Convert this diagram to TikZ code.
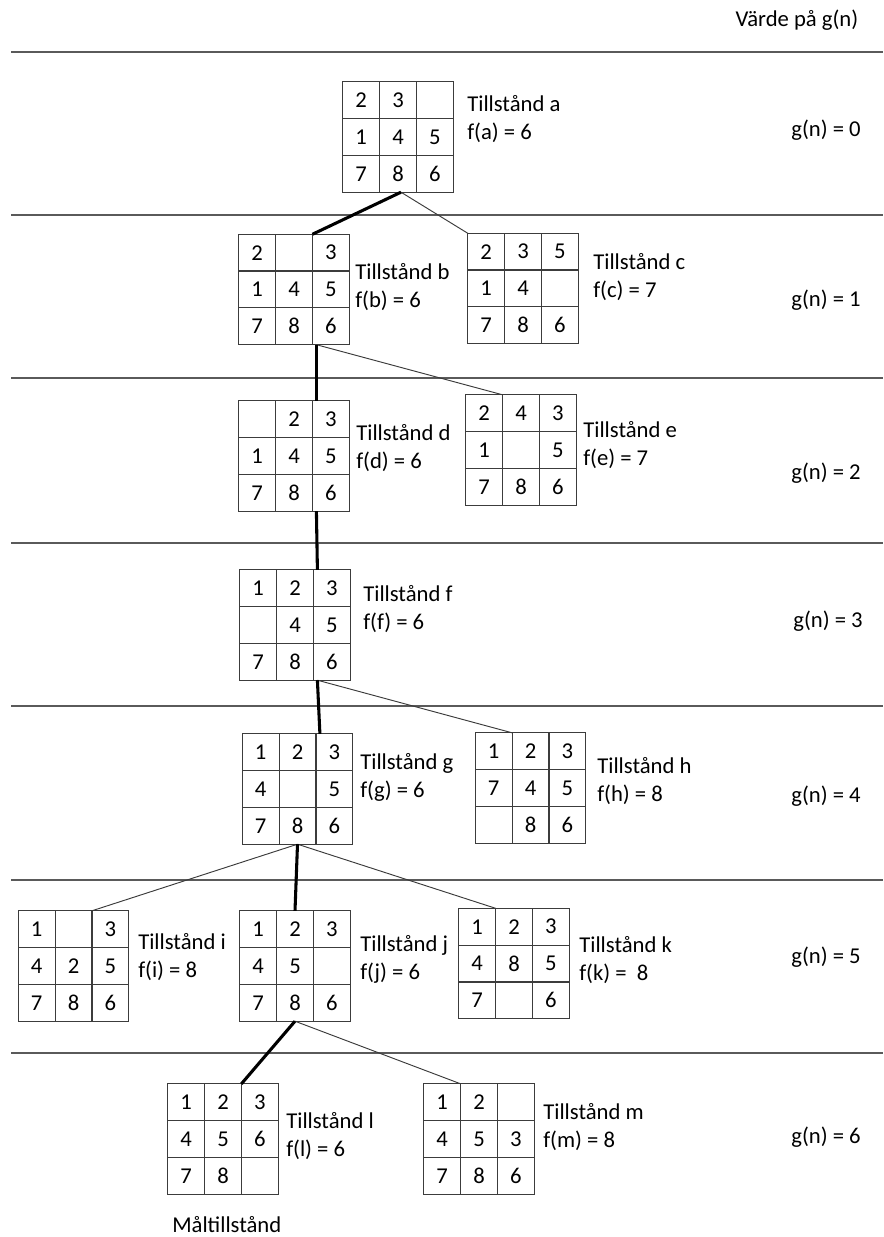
\documentclass[tikz,border=0pt]{standalone}
\usepackage{fontspec}
\setmainfont{Carlito}
\usetikzlibrary{matrix,calc}
\definecolor{gridc}{HTML}{3C3C3C}
\definecolor{sepc}{HTML}{5A5A5A}
\definecolor{linec}{HTML}{3A3A3A}
\begin{document}
\begin{tikzpicture}[x=0.75pt,y=-0.75pt,
  every node/.style={font=\fontsize{17}{21}\selectfont},
  pz/.style={matrix of nodes, nodes in empty cells, inner sep=0pt, outer sep=0pt,
     column sep=0pt, row sep=0pt,
     nodes={minimum size=27.6pt, inner sep=0pt, outer sep=0pt, anchor=center}},
  gridline/.style={draw=gridc, line width=0.9pt},
  lbl/.style={anchor=west, align=left, inner sep=0pt},
  gval/.style={anchor=center, inner sep=0pt},
  sep/.style={draw=sepc, line width=1.1pt},
  best/.style={line width=2.3pt, draw=black},
  other/.style={line width=0.7pt, draw=linec},
]
\fill[white] (0,0) rectangle (883,1237);
\useasboundingbox (0,0) rectangle (883,1237);

% separators
\foreach \yy in {52,215,378,543,706,880,1053} {\draw[sep] (11,\yy) -- (883,\yy);}

% header and g(n) values
\node[gval] (title) at (797,20) {Värde på g(n)};
\node[gval] (gn0) at (826,130) {g(n) = 0};
\node[gval] (gn1) at (826,300) {g(n) = 1};
\node[gval] (gn2) at (826,473) {g(n) = 2};
\node[gval] (gn3) at (828,621) {g(n) = 3};
\node[gval] (gn4) at (826,796) {g(n) = 4};
\node[gval] (gn5) at (826,957) {g(n) = 5};
\node[gval] (gn6) at (826,1137) {g(n) = 6};

% puzzles
\matrix[pz] (a) at (398,137) {2 & 3 & \\ 1 & 4 & 5\\ 7 & 8 & 6\\};
\matrix[pz] (b) at (294,289.5) {2 & & 3\\ 1 & 4 & 5\\ 7 & 8 & 6\\};
\matrix[pz] (c) at (523,288.5) {2 & 3 & 5\\ 1 & 4 & \\ 7 & 8 & 6\\};
\matrix[pz] (d) at (294,456) { & 2 & 3\\ 1 & 4 & 5\\ 7 & 8 & 6\\};
\matrix[pz] (e) at (521,450) {2 & 4 & 3\\ 1 & & 5\\ 7 & 8 & 6\\};
\matrix[pz] (f) at (295,625) {1 & 2 & 3\\ & 4 & 5\\ 7 & 8 & 6\\};
\matrix[pz] (g) at (297.5,789) {1 & 2 & 3\\ 4 & & 5\\ 7 & 8 & 6\\};
\matrix[pz] (h) at (530.5,788) {1 & 2 & 3\\ 7 & 4 & 5\\ & 8 & 6\\};
\matrix[pz] (i) at (73.5,966) {1 & & 3\\ 4 & 2 & 5\\ 7 & 8 & 6\\};
\matrix[pz] (j) at (295,966) {1 & 2 & 3\\ 4 & 5 & \\ 7 & 8 & 6\\};
\matrix[pz] (k) at (514,963.5) {1 & 2 & 3\\ 4 & 8 & 5\\ 7 & & 6\\};
\matrix[pz] (l) at (223,1139) {1 & 2 & 3\\ 4 & 5 & 6\\ 7 & 8 & \\};
\matrix[pz] (m) at (479,1139) {1 & 2 & \\ 4 & 5 & 3\\ 7 & 8 & 6\\};

% grid lines of every puzzle
\foreach \n in {a,b,c,d,e,f,g,h,i,j,k,l,m} {
  \draw[gridline] (\n.north west) rectangle (\n.south east);
  \foreach \t in {1/3,2/3} {
    \draw[gridline] ($(\n.north west)!\t!(\n.north east)$) -- ($(\n.south west)!\t!(\n.south east)$);
    \draw[gridline] ($(\n.north west)!\t!(\n.south west)$) -- ($(\n.north east)!\t!(\n.south east)$);
  }
}

% labels
\node[lbl] (la) at (467,119) {Tillstånd a\\f(a) = 6};
\node[lbl] (lb) at (355,287) {Tillstånd b\\f(b) = 6};
\node[lbl] (lc) at (593,277.5) {Tillstånd c\\f(c) = 7};
\node[lbl] (ld) at (356,448) {Tillstånd d\\f(d) = 6};
\node[lbl] (le) at (583,445) {Tillstånd e\\f(e) = 7};
\node[lbl] (lf) at (363,609) {Tillstånd f\\f(f) = 6};
\node[lbl] (lg) at (360,777.5) {Tillstånd g\\f(g) = 6};
\node[lbl] (lh) at (597,781) {Tillstånd h\\f(h) = 8};
\node[lbl] (li) at (138,957.5) {Tillstånd i\\f(i) = 8};
\node[lbl] (lj) at (360,959) {Tillstånd j\\f(j) = 6};
\node[lbl] (lk) at (579,960) {Tillstånd k\\f(k) = \ 8};
\node[lbl] (ll) at (286,1136) {Tillstånd l\\f(l) = 6};
\node[lbl] (lm) at (543,1127.5) {Tillstånd m\\f(m) = 8};
\node[lbl] (goal) at (172,1225) {Måltillstånd};

% connectors
\draw[other] ([xshift=2.25pt]a.south) -- (c.north west);
\draw[best] ([xshift=2.25pt]a.south) -- (b-1-3.north west);
\draw[other] ([xshift=3pt]b-3-3.south west) -- (e-1-2.north west);
\draw[best] ([xshift=3pt]b-3-3.south west) -- ([xshift=3pt]d-1-3.north west);
\draw[best] ([xshift=3pt]d-3-3.south west) -- ([xshift=3pt]f-1-3.north west);
\draw[other] ([xshift=3pt]f-3-3.south west) -- (h-1-2.north west);
\draw[best] ([xshift=3pt]f-3-3.south west) -- ([xshift=3pt]g-1-3.north west);
\draw[other] (g-3-2.south) -- (i-1-3.north west);
\draw[other] (g-3-2.south) -- (k-1-2.north west);
\draw[best] (g-3-2.south) -- (j-1-2.north);
\draw[other] (j-3-2.south) -- (m-1-2.north west);
\draw[best] (j-3-2.south) -- (l-1-3.north west);
\end{tikzpicture}
\end{document}
